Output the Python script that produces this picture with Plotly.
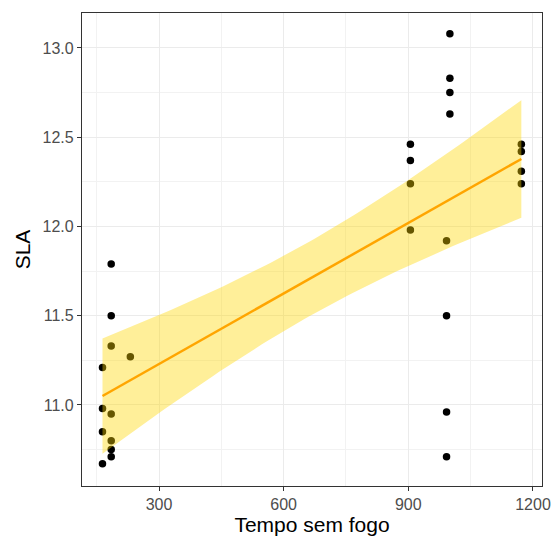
import numpy as np
import plotly.graph_objects as go

# Data
tempo = [164, 164, 164, 164,
         185, 185, 185, 185, 185, 185, 185,
         231,
         905, 905, 905, 905,
         1000, 1000, 1000, 1000,
         992, 992, 992, 992,
         1172, 1172, 1172, 1172]
sla = [11.21, 10.98, 10.85, 10.67,
       11.79, 11.50, 11.33, 10.95, 10.80, 10.75, 10.71,
       11.27,
       12.46, 12.37, 12.24, 11.98,
       13.08, 12.83, 12.75, 12.63,
       11.92, 11.50, 10.96, 10.71,
       12.46, 12.42, 12.31, 12.24]

x = np.array(tempo, dtype=float)
y = np.array(sla, dtype=float)

# linear fit with 95% confidence band (like geom_smooth(method="lm"))
n = len(x)
b1, b0 = np.polyfit(x, y, 1)
resid = y - (b0 + b1 * x)
s = np.sqrt(np.sum(resid ** 2) / (n - 2))
xg = np.linspace(x.min(), x.max(), 80)
yg = b0 + b1 * xg
sxx = np.sum((x - x.mean()) ** 2)
se = s * np.sqrt(1 / n + (xg - x.mean()) ** 2 / sxx)
tcrit = 2.0555  # t(0.975, 26)
lo = yg - tcrit * se
hi = yg + tcrit * se

fig = go.Figure()
fig.add_trace(go.Scatter(x=x, y=y, mode="markers",
                         marker=dict(color="black", size=7.5), showlegend=False))
fig.add_trace(go.Scatter(x=np.concatenate([xg, xg[::-1]]),
                         y=np.concatenate([hi, lo[::-1]]),
                         fill="toself", fillcolor="rgba(255,215,0,0.4)",
                         line=dict(width=0), mode="lines", showlegend=False,
                         hoverinfo="skip"))
fig.add_trace(go.Scatter(x=xg, y=yg, mode="lines",
                         line=dict(color="#FFA500", width=2.5), showlegend=False))

axis_common = dict(
    showgrid=True, gridcolor="#EBEBEB", gridwidth=1,
    minor=dict(showgrid=True, gridcolor="#F2F2F2", gridwidth=0.6),
    showline=True, linecolor="#333333", linewidth=1.2, mirror=True,
    ticks="outside", ticklen=4, tickcolor="#333333", tickwidth=1,
    zeroline=False, automargin=False,
    tickfont=dict(family="Liberation Sans, Arial, sans-serif", size=16, color="#4D4D4D"),
    title_font=dict(family="Liberation Sans, Arial, sans-serif", size=21, color="black"),
)

fig.update_xaxes(range=[114.7, 1221.7], tickvals=[300, 600, 900, 1200],
                 ticktext=["300", "600", "900", "1200"],
                 minor_tickvals=[150, 450, 750, 1050],
                 title_text="Tempo sem fogo", title_standoff=3, **axis_common)
fig.update_yaxes(range=[10.546, 13.196], tickvals=[11.0, 11.5, 12.0, 12.5, 13.0],
                 ticktext=["11.0", "11.5", "12.0", "12.5", "13.0"],
                 minor_tickvals=[10.75, 11.25, 11.75, 12.25, 12.75],
                 title_text="SLA", title_standoff=6, **axis_common)

fig.update_layout(width=551, height=541,
                  margin=dict(l=82, r=9, t=13, b=55),
                  plot_bgcolor="white", paper_bgcolor="white")

fig.write_html("out.html")
